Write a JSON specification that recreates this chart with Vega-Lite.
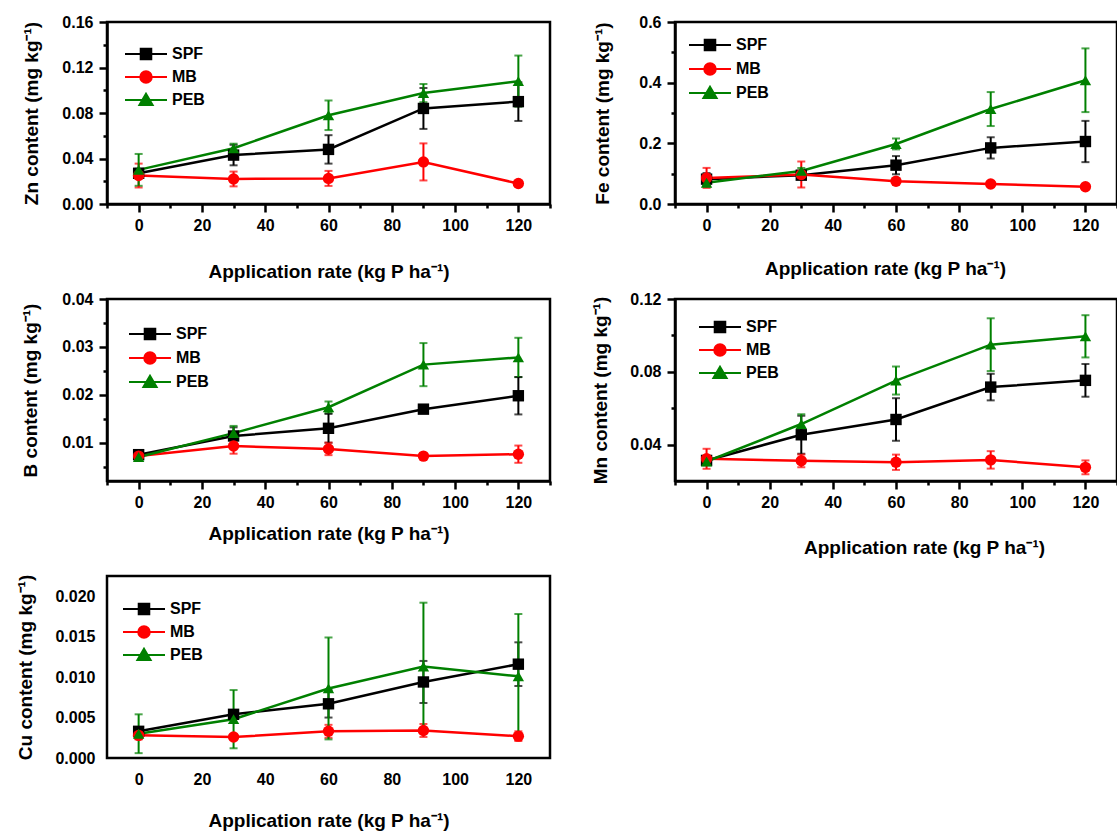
{
  "$schema": "https://vega.github.io/schema/vega-lite/v6.json",
  "autosize": {"type": "none"},
  "padding": {"left": 107, "top": 22, "right": 1010, "bottom": 812},
  "background": "white",
  "bounds": "flush",
  "spacing": 277,
  "resolve": {"scale": {"color": "independent"}, "legend": {"color": "independent"}},
  "datasets": {
    "d": [
      {"el": "Zn", "s": "SPF", "rate": 0, "v": 0.027, "e": 0.004},
      {"el": "Zn", "s": "SPF", "rate": 30, "v": 0.043, "e": 0.009},
      {"el": "Zn", "s": "SPF", "rate": 60, "v": 0.048, "e": 0.0125},
      {"el": "Zn", "s": "SPF", "rate": 90, "v": 0.084, "e": 0.018},
      {"el": "Zn", "s": "SPF", "rate": 120, "v": 0.090, "e": 0.017},
      {"el": "Zn", "s": "MB", "rate": 0, "v": 0.025, "e": 0.0105},
      {"el": "Zn", "s": "MB", "rate": 30, "v": 0.022, "e": 0.0065},
      {"el": "Zn", "s": "MB", "rate": 60, "v": 0.0225, "e": 0.0066},
      {"el": "Zn", "s": "MB", "rate": 90, "v": 0.037, "e": 0.0163},
      {"el": "Zn", "s": "MB", "rate": 120, "v": 0.018, "e": 0.002},
      {"el": "Zn", "s": "PEB", "rate": 0, "v": 0.030, "e": 0.014},
      {"el": "Zn", "s": "PEB", "rate": 30, "v": 0.049, "e": 0.004},
      {"el": "Zn", "s": "PEB", "rate": 60, "v": 0.078, "e": 0.013},
      {"el": "Zn", "s": "PEB", "rate": 90, "v": 0.0975, "e": 0.008},
      {"el": "Zn", "s": "PEB", "rate": 120, "v": 0.108, "e": 0.0225},
      {"el": "Fe", "s": "SPF", "rate": 0, "v": 0.082, "e": 0.02},
      {"el": "Fe", "s": "SPF", "rate": 30, "v": 0.095, "e": 0.01},
      {"el": "Fe", "s": "SPF", "rate": 60, "v": 0.128, "e": 0.03},
      {"el": "Fe", "s": "SPF", "rate": 90, "v": 0.185, "e": 0.035},
      {"el": "Fe", "s": "SPF", "rate": 120, "v": 0.206, "e": 0.068},
      {"el": "Fe", "s": "MB", "rate": 0, "v": 0.086, "e": 0.033},
      {"el": "Fe", "s": "MB", "rate": 30, "v": 0.097, "e": 0.043},
      {"el": "Fe", "s": "MB", "rate": 60, "v": 0.075, "e": 0.008},
      {"el": "Fe", "s": "MB", "rate": 90, "v": 0.066, "e": 0.008},
      {"el": "Fe", "s": "MB", "rate": 120, "v": 0.057, "e": 0.006},
      {"el": "Fe", "s": "PEB", "rate": 0, "v": 0.070, "e": 0.012},
      {"el": "Fe", "s": "PEB", "rate": 30, "v": 0.109, "e": 0.01},
      {"el": "Fe", "s": "PEB", "rate": 60, "v": 0.198, "e": 0.018},
      {"el": "Fe", "s": "PEB", "rate": 90, "v": 0.313, "e": 0.056},
      {"el": "Fe", "s": "PEB", "rate": 120, "v": 0.408, "e": 0.105},
      {"el": "B", "s": "SPF", "rate": 0, "v": 0.0075, "e": 0.0007},
      {"el": "B", "s": "SPF", "rate": 30, "v": 0.0114, "e": 0.0018},
      {"el": "B", "s": "SPF", "rate": 60, "v": 0.013, "e": 0.003},
      {"el": "B", "s": "SPF", "rate": 90, "v": 0.017, "e": 0.0005},
      {"el": "B", "s": "SPF", "rate": 120, "v": 0.0198, "e": 0.0039},
      {"el": "B", "s": "MB", "rate": 0, "v": 0.0072, "e": 0.0005},
      {"el": "B", "s": "MB", "rate": 30, "v": 0.0093, "e": 0.0016},
      {"el": "B", "s": "MB", "rate": 60, "v": 0.0087, "e": 0.0013},
      {"el": "B", "s": "MB", "rate": 90, "v": 0.0072, "e": 0.0005},
      {"el": "B", "s": "MB", "rate": 120, "v": 0.0076, "e": 0.0018},
      {"el": "B", "s": "PEB", "rate": 0, "v": 0.0070, "e": 0.0006},
      {"el": "B", "s": "PEB", "rate": 30, "v": 0.0120, "e": 0.0015},
      {"el": "B", "s": "PEB", "rate": 60, "v": 0.0174, "e": 0.0012},
      {"el": "B", "s": "PEB", "rate": 90, "v": 0.0263, "e": 0.0045},
      {"el": "B", "s": "PEB", "rate": 120, "v": 0.0278, "e": 0.0041},
      {"el": "Mn", "s": "SPF", "rate": 0, "v": 0.0313, "e": 0.002},
      {"el": "Mn", "s": "SPF", "rate": 30, "v": 0.0454, "e": 0.0104},
      {"el": "Mn", "s": "SPF", "rate": 60, "v": 0.0538, "e": 0.0117},
      {"el": "Mn", "s": "SPF", "rate": 90, "v": 0.0716, "e": 0.0073},
      {"el": "Mn", "s": "SPF", "rate": 120, "v": 0.0753, "e": 0.009},
      {"el": "Mn", "s": "MB", "rate": 0, "v": 0.0322, "e": 0.0055},
      {"el": "Mn", "s": "MB", "rate": 30, "v": 0.0311, "e": 0.0035},
      {"el": "Mn", "s": "MB", "rate": 60, "v": 0.0303, "e": 0.0042},
      {"el": "Mn", "s": "MB", "rate": 90, "v": 0.0316, "e": 0.0048},
      {"el": "Mn", "s": "MB", "rate": 120, "v": 0.0275, "e": 0.0038},
      {"el": "Mn", "s": "PEB", "rate": 0, "v": 0.0307, "e": 0.002},
      {"el": "Mn", "s": "PEB", "rate": 30, "v": 0.0513, "e": 0.0054},
      {"el": "Mn", "s": "PEB", "rate": 60, "v": 0.0752, "e": 0.0077},
      {"el": "Mn", "s": "PEB", "rate": 90, "v": 0.0949, "e": 0.0145},
      {"el": "Mn", "s": "PEB", "rate": 120, "v": 0.0995, "e": 0.0116},
      {"el": "Cu", "s": "SPF", "rate": 0, "v": 0.0033, "e": 0.0005},
      {"el": "Cu", "s": "SPF", "rate": 30, "v": 0.0054, "e": 0.0003},
      {"el": "Cu", "s": "SPF", "rate": 60, "v": 0.0067, "e": 0.0017},
      {"el": "Cu", "s": "SPF", "rate": 90, "v": 0.0094, "e": 0.0026},
      {"el": "Cu", "s": "SPF", "rate": 120, "v": 0.0116, "e": 0.0027},
      {"el": "Cu", "s": "MB", "rate": 0, "v": 0.0028, "e": 0.0005},
      {"el": "Cu", "s": "MB", "rate": 30, "v": 0.0026, "e": 0.0003},
      {"el": "Cu", "s": "MB", "rate": 60, "v": 0.0033, "e": 0.0008},
      {"el": "Cu", "s": "MB", "rate": 90, "v": 0.0034, "e": 0.0008},
      {"el": "Cu", "s": "MB", "rate": 120, "v": 0.0027, "e": 0.0006},
      {"el": "Cu", "s": "PEB", "rate": 0, "v": 0.0030, "e": 0.0024},
      {"el": "Cu", "s": "PEB", "rate": 30, "v": 0.0048, "e": 0.0036},
      {"el": "Cu", "s": "PEB", "rate": 60, "v": 0.0086, "e": 0.0063},
      {"el": "Cu", "s": "PEB", "rate": 90, "v": 0.0113, "e": 0.0079},
      {"el": "Cu", "s": "PEB", "rate": 120, "v": 0.0101, "e": 0.0077}
    ]
  },
  "vconcat": [
    {
      "hconcat": [
        {
          "width": 443, "height": 182,
          "data": {"name": "d"},
          "transform": [{"filter": "datum.el === 'Zn'"}],
          "encoding": {
            "x": {"field": "rate", "type": "quantitative", "scale": {"domain": [-10, 130], "nice": false, "zero": false},
              "axis": {"values": [-10, 0, 10, 20, 30, 40, 50, 60, 70, 80, 90, 100, 110, 120, 130], "title": "Application rate (kg P ha⁻¹)",
                "labelExpr": "datum.value >= 0 && datum.value % 20 === 0 ? datum.label : ''",
                "tickSize": {"condition": {"test": "datum.value % 20 === 0", "value": 8}, "value": 4},
                "labelPadding": 5, "titleY": 67, "titleBaseline": "middle"}},
            "y": {"field": "v", "type": "quantitative", "scale": {"domain": [0, 0.16], "nice": false, "zero": false},
              "axis": {"values": [0, 0.02, 0.04, 0.06, 0.08, 0.1, 0.12, 0.14, 0.16], "format": ".2f", "title": "Zn content (mg kg⁻¹)",
                "labelExpr": "abs(datum.value*25 - round(datum.value*25)) < 1e-6 ? datum.label : ''",
                "tickSize": {"condition": {"test": "abs(datum.value*25 - round(datum.value*25)) < 1e-6", "value": 8}, "value": 4},
                "labelPadding": 6, "titleX": -76, "titleBaseline": "middle"}},
            "color": {"field": "s", "type": "nominal", "scale": {"domain": ["SPF", "MB", "PEB"], "range": ["#000000", "#ff0000", "#008000"]},
              "legend": {"orient": "none", "legendX": 26, "legendY": 19, "title": null, "symbolSize": 576, "padding": 0, "rowPadding": 0, "labelOffset": 13, "labelFont": "Liberation Sans", "labelFontWeight": "bold", "labelFontSize": 16, "labelColor": "black",
                "encode": {"symbols": {"update": {
                  "shape": {"signal": "datum.value === 'SPF' ? 'M-1.75,0H1.75M-0.44,-0.44H0.44V0.44H-0.44Z' : datum.value === 'MB' ? 'M-1.75,0H1.75M0.48,0A0.48,0.48,0,1,1,-0.48,0A0.48,0.48,0,1,1,0.48,0Z' : 'M-1.75,0H1.75M0,-0.52L0.55,0.42H-0.55Z'"},
                  "size": {"value": 576}, "strokeWidth": {"value": 2}, "opacity": {"value": 1},
                  "stroke": {"signal": "datum.value === 'SPF' ? '#000000' : datum.value === 'MB' ? '#ff0000' : '#008000'"},
                  "fill": {"signal": "datum.value === 'SPF' ? '#000000' : datum.value === 'MB' ? '#ff0000' : '#008000'"}}}}}}
          },
          "layer": [
            {"mark": {"type": "errorbar", "ticks": {"size": 8, "thickness": 2}, "thickness": 2}, "encoding": {"yError": {"field": "e"}}},
            {"mark": {"type": "line", "strokeWidth": 2.5}, "encoding": {"detail": {"field": "s"}}},
            {"transform": [{"filter": "datum.s === 'SPF'"}], "mark": {"type": "point", "filled": true, "size": 130, "opacity": 1, "shape": "square"}},
            {"transform": [{"filter": "datum.s === 'MB'"}], "mark": {"type": "point", "filled": true, "size": 130, "opacity": 1, "shape": "circle"}},
            {"transform": [{"filter": "datum.s === 'PEB'"}], "mark": {"type": "point", "filled": true, "size": 130, "opacity": 1, "shape": "triangle-up"}}
          ]
        },
        {
          "width": 442, "height": 182,
          "data": {"name": "d"},
          "transform": [{"filter": "datum.el === 'Fe'"}],
          "encoding": {
            "x": {"field": "rate", "type": "quantitative", "scale": {"domain": [-10, 130], "nice": false, "zero": false},
              "axis": {"values": [-10, 0, 10, 20, 30, 40, 50, 60, 70, 80, 90, 100, 110, 120, 130], "title": "Application rate (kg P ha⁻¹)",
                "labelExpr": "datum.value >= 0 && datum.value % 20 === 0 ? datum.label : ''",
                "tickSize": {"condition": {"test": "datum.value % 20 === 0", "value": 8}, "value": 4},
                "labelPadding": 5, "titleY": 64, "titleX": 210, "titleBaseline": "middle"}},
            "y": {"field": "v", "type": "quantitative", "scale": {"domain": [0, 0.6], "nice": false, "zero": false},
              "axis": {"values": [0, 0.1, 0.2, 0.3, 0.4, 0.5, 0.6], "format": ".1f", "title": "Fe content (mg kg⁻¹)",
                "labelExpr": "abs(datum.value*5 - round(datum.value*5)) < 1e-6 ? datum.label : ''",
                "tickSize": {"condition": {"test": "abs(datum.value*5 - round(datum.value*5)) < 1e-6", "value": 8}, "value": 4},
                "labelPadding": 6, "titleX": -73, "titleBaseline": "middle"}},
            "color": {"field": "s", "type": "nominal", "scale": {"domain": ["SPF", "MB", "PEB"], "range": ["#000000", "#ff0000", "#008000"]},
              "legend": {"orient": "none", "legendX": 22, "legendY": 10, "title": null, "symbolSize": 576, "padding": 0, "rowPadding": 1, "labelOffset": 13, "labelFont": "Liberation Sans", "labelFontWeight": "bold", "labelFontSize": 16, "labelColor": "black",
                "encode": {"symbols": {"update": {
                  "shape": {"signal": "datum.value === 'SPF' ? 'M-1.75,0H1.75M-0.44,-0.44H0.44V0.44H-0.44Z' : datum.value === 'MB' ? 'M-1.75,0H1.75M0.48,0A0.48,0.48,0,1,1,-0.48,0A0.48,0.48,0,1,1,0.48,0Z' : 'M-1.75,0H1.75M0,-0.52L0.55,0.42H-0.55Z'"},
                  "size": {"value": 576}, "strokeWidth": {"value": 2}, "opacity": {"value": 1},
                  "stroke": {"signal": "datum.value === 'SPF' ? '#000000' : datum.value === 'MB' ? '#ff0000' : '#008000'"},
                  "fill": {"signal": "datum.value === 'SPF' ? '#000000' : datum.value === 'MB' ? '#ff0000' : '#008000'"}}}}}}
          },
          "layer": [
            {"mark": {"type": "errorbar", "ticks": {"size": 8, "thickness": 2}, "thickness": 2}, "encoding": {"yError": {"field": "e"}}},
            {"mark": {"type": "line", "strokeWidth": 2.5}, "encoding": {"detail": {"field": "s"}}},
            {"transform": [{"filter": "datum.s === 'SPF'"}], "mark": {"type": "point", "filled": true, "size": 130, "opacity": 1, "shape": "square"}},
            {"transform": [{"filter": "datum.s === 'MB'"}], "mark": {"type": "point", "filled": true, "size": 130, "opacity": 1, "shape": "circle"}},
            {"transform": [{"filter": "datum.s === 'PEB'"}], "mark": {"type": "point", "filled": true, "size": 130, "opacity": 1, "shape": "triangle-up"}}
          ]
        }
      ],
      "spacing": 125,
      "bounds": "flush",
      "resolve": {"scale": {"color": "independent"}, "legend": {"color": "independent"}}
    },
    {
      "hconcat": [
        {
          "width": 443, "height": 182,
          "data": {"name": "d"},
          "transform": [{"filter": "datum.el === 'B'"}],
          "encoding": {
            "x": {"field": "rate", "type": "quantitative", "scale": {"domain": [-10, 130], "nice": false, "zero": false},
              "axis": {"values": [-10, 0, 10, 20, 30, 40, 50, 60, 70, 80, 90, 100, 110, 120, 130], "title": "Application rate (kg P ha⁻¹)",
                "labelExpr": "datum.value >= 0 && datum.value % 20 === 0 ? datum.label : ''",
                "tickSize": {"condition": {"test": "datum.value % 20 === 0", "value": 8}, "value": 4},
                "labelPadding": 5, "titleY": 52, "titleBaseline": "middle"}},
            "y": {"field": "v", "type": "quantitative", "scale": {"domain": [0.002, 0.04], "nice": false, "zero": false},
              "axis": {"values": [0.005, 0.01, 0.015, 0.02, 0.025, 0.03, 0.035, 0.04], "format": ".2f", "title": "B content (mg kg⁻¹)",
                "labelExpr": "abs(datum.value*100 - round(datum.value*100)) < 1e-6 ? datum.label : ''",
                "tickSize": {"condition": {"test": "abs(datum.value*100 - round(datum.value*100)) < 1e-6", "value": 8}, "value": 4},
                "labelPadding": 6, "titleX": -77, "titleBaseline": "middle"}},
            "color": {"field": "s", "type": "nominal", "scale": {"domain": ["SPF", "MB", "PEB"], "range": ["#000000", "#ff0000", "#008000"]},
              "legend": {"orient": "none", "legendX": 30, "legendY": 22, "title": null, "symbolSize": 576, "padding": 0, "rowPadding": 1, "labelOffset": 13, "labelFont": "Liberation Sans", "labelFontWeight": "bold", "labelFontSize": 16, "labelColor": "black",
                "encode": {"symbols": {"update": {
                  "shape": {"signal": "datum.value === 'SPF' ? 'M-1.75,0H1.75M-0.44,-0.44H0.44V0.44H-0.44Z' : datum.value === 'MB' ? 'M-1.75,0H1.75M0.48,0A0.48,0.48,0,1,1,-0.48,0A0.48,0.48,0,1,1,0.48,0Z' : 'M-1.75,0H1.75M0,-0.52L0.55,0.42H-0.55Z'"},
                  "size": {"value": 576}, "strokeWidth": {"value": 2}, "opacity": {"value": 1},
                  "stroke": {"signal": "datum.value === 'SPF' ? '#000000' : datum.value === 'MB' ? '#ff0000' : '#008000'"},
                  "fill": {"signal": "datum.value === 'SPF' ? '#000000' : datum.value === 'MB' ? '#ff0000' : '#008000'"}}}}}}
          },
          "layer": [
            {"mark": {"type": "errorbar", "ticks": {"size": 8, "thickness": 2}, "thickness": 2}, "encoding": {"yError": {"field": "e"}}},
            {"mark": {"type": "line", "strokeWidth": 2.5}, "encoding": {"detail": {"field": "s"}}},
            {"transform": [{"filter": "datum.s === 'SPF'"}], "mark": {"type": "point", "filled": true, "size": 130, "opacity": 1, "shape": "square"}},
            {"transform": [{"filter": "datum.s === 'MB'"}], "mark": {"type": "point", "filled": true, "size": 130, "opacity": 1, "shape": "circle"}},
            {"transform": [{"filter": "datum.s === 'PEB'"}], "mark": {"type": "point", "filled": true, "size": 130, "opacity": 1, "shape": "triangle-up"}}
          ]
        },
        {
          "width": 442, "height": 182,
          "data": {"name": "d"},
          "transform": [{"filter": "datum.el === 'Mn'"}],
          "encoding": {
            "x": {"field": "rate", "type": "quantitative", "scale": {"domain": [-10, 130], "nice": false, "zero": false},
              "axis": {"values": [-10, 0, 10, 20, 30, 40, 50, 60, 70, 80, 90, 100, 110, 120, 130], "title": "Application rate (kg P ha⁻¹)",
                "labelExpr": "datum.value >= 0 && datum.value % 20 === 0 ? datum.label : ''",
                "tickSize": {"condition": {"test": "datum.value % 20 === 0", "value": 8}, "value": 4},
                "labelPadding": 5, "titleY": 66, "titleX": 249, "titleBaseline": "middle"}},
            "y": {"field": "v", "type": "quantitative", "scale": {"domain": [0.02, 0.12], "nice": false, "zero": false},
              "axis": {"values": [0.04, 0.06, 0.08, 0.1, 0.12], "format": ".2f", "title": "Mn content (mg kg⁻¹)",
                "labelExpr": "abs(datum.value*25 - round(datum.value*25)) < 1e-6 ? datum.label : ''",
                "tickSize": {"condition": {"test": "abs(datum.value*25 - round(datum.value*25)) < 1e-6", "value": 8}, "value": 4},
                "labelPadding": 6, "titleX": -75, "titleBaseline": "middle"}},
            "color": {"field": "s", "type": "nominal", "scale": {"domain": ["SPF", "MB", "PEB"], "range": ["#000000", "#ff0000", "#008000"]},
              "legend": {"orient": "none", "legendX": 32, "legendY": 15, "title": null, "symbolSize": 576, "padding": 0, "rowPadding": 0, "labelOffset": 13, "labelFont": "Liberation Sans", "labelFontWeight": "bold", "labelFontSize": 16, "labelColor": "black",
                "encode": {"symbols": {"update": {
                  "shape": {"signal": "datum.value === 'SPF' ? 'M-1.75,0H1.75M-0.44,-0.44H0.44V0.44H-0.44Z' : datum.value === 'MB' ? 'M-1.75,0H1.75M0.48,0A0.48,0.48,0,1,1,-0.48,0A0.48,0.48,0,1,1,0.48,0Z' : 'M-1.75,0H1.75M0,-0.52L0.55,0.42H-0.55Z'"},
                  "size": {"value": 576}, "strokeWidth": {"value": 2}, "opacity": {"value": 1},
                  "stroke": {"signal": "datum.value === 'SPF' ? '#000000' : datum.value === 'MB' ? '#ff0000' : '#008000'"},
                  "fill": {"signal": "datum.value === 'SPF' ? '#000000' : datum.value === 'MB' ? '#ff0000' : '#008000'"}}}}}}
          },
          "layer": [
            {"mark": {"type": "errorbar", "ticks": {"size": 8, "thickness": 2}, "thickness": 2}, "encoding": {"yError": {"field": "e"}}},
            {"mark": {"type": "line", "strokeWidth": 2.5}, "encoding": {"detail": {"field": "s"}}},
            {"transform": [{"filter": "datum.s === 'SPF'"}], "mark": {"type": "point", "filled": true, "size": 130, "opacity": 1, "shape": "square"}},
            {"transform": [{"filter": "datum.s === 'MB'"}], "mark": {"type": "point", "filled": true, "size": 130, "opacity": 1, "shape": "circle"}},
            {"transform": [{"filter": "datum.s === 'PEB'"}], "mark": {"type": "point", "filled": true, "size": 130, "opacity": 1, "shape": "triangle-up"}}
          ]
        }
      ],
      "spacing": 125,
      "bounds": "flush",
      "resolve": {"scale": {"color": "independent"}, "legend": {"color": "independent"}}
    },
    {
      "width": 443, "height": 182,
      "data": {"name": "d"},
      "transform": [{"filter": "datum.el === 'Cu'"}],
      "encoding": {
        "x": {"field": "rate", "type": "quantitative", "scale": {"domain": [-10, 130], "nice": false, "zero": false},
          "axis": {"values": [0, 20, 40, 60, 80, 100, 120], "title": "Application rate (kg P ha⁻¹)",
            "domain": false, "ticks": false, "labelPadding": 13, "titleY": 62, "titleBaseline": "middle"}},
        "y": {"field": "v", "type": "quantitative", "scale": {"domain": [0, 0.0225], "nice": false, "zero": false},
          "axis": {"values": [0, 0.005, 0.01, 0.015, 0.02], "format": ".3f", "title": "Cu content (mg kg⁻¹)",
            "domain": false, "ticks": false, "labelPadding": 12, "titleX": -82, "titleBaseline": "middle"}},
        "color": {"field": "s", "type": "nominal", "scale": {"domain": ["SPF", "MB", "PEB"], "range": ["#000000", "#ff0000", "#008000"]},
          "legend": {"orient": "none", "legendX": 24, "legendY": 20, "title": null, "symbolSize": 576, "padding": 0, "rowPadding": 0, "labelOffset": 13, "labelFont": "Liberation Sans", "labelFontWeight": "bold", "labelFontSize": 16, "labelColor": "black",
            "encode": {"symbols": {"update": {
              "shape": {"signal": "datum.value === 'SPF' ? 'M-1.75,0H1.75M-0.44,-0.44H0.44V0.44H-0.44Z' : datum.value === 'MB' ? 'M-1.75,0H1.75M0.48,0A0.48,0.48,0,1,1,-0.48,0A0.48,0.48,0,1,1,0.48,0Z' : 'M-1.75,0H1.75M0,-0.52L0.55,0.42H-0.55Z'"},
              "size": {"value": 576}, "strokeWidth": {"value": 2}, "opacity": {"value": 1},
              "stroke": {"signal": "datum.value === 'SPF' ? '#000000' : datum.value === 'MB' ? '#ff0000' : '#008000'"},
              "fill": {"signal": "datum.value === 'SPF' ? '#000000' : datum.value === 'MB' ? '#ff0000' : '#008000'"}}}}}}
      },
      "layer": [
        {"mark": {"type": "errorbar", "ticks": {"size": 8, "thickness": 2}, "thickness": 2}, "encoding": {"yError": {"field": "e"}}},
        {"mark": {"type": "line", "strokeWidth": 2.5}, "encoding": {"detail": {"field": "s"}}},
        {"transform": [{"filter": "datum.s === 'SPF'"}], "mark": {"type": "point", "filled": true, "size": 130, "opacity": 1, "shape": "square"}},
        {"transform": [{"filter": "datum.s === 'MB'"}], "mark": {"type": "point", "filled": true, "size": 130, "opacity": 1, "shape": "circle"}},
        {"transform": [{"filter": "datum.s === 'PEB'"}], "mark": {"type": "point", "filled": true, "size": 130, "opacity": 1, "shape": "triangle-up"}}
      ]
    }
  ],
  "config": {
    "font": "Liberation Sans",
    "view": {"stroke": "black", "strokeWidth": 2.5},
    "axis": {"domainColor": "black", "domainWidth": 2.5, "tickColor": "black", "tickWidth": 2.5, "grid": false,
      "labelFont": "Liberation Sans", "labelFontWeight": "bold", "labelFontSize": 16, "labelColor": "black", "labelFlush": false, "labelOverlap": false,
      "titleFont": "Liberation Sans", "titleFontWeight": "bold", "titleFontSize": 19, "titleColor": "black"}
  }
}
